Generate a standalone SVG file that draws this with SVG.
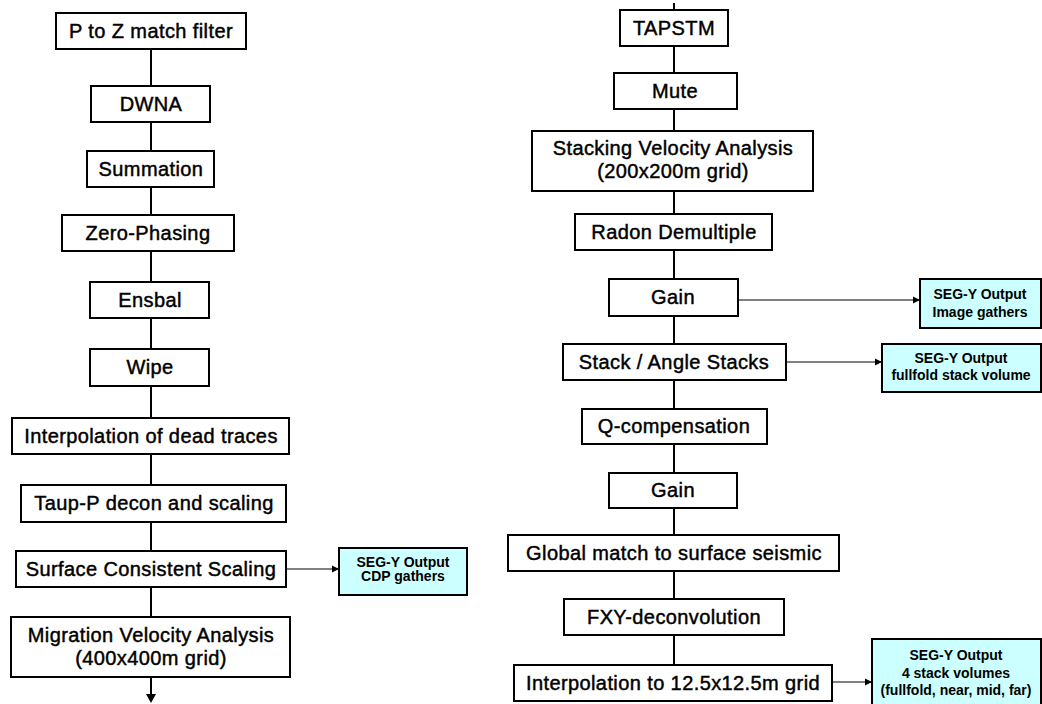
<svg xmlns="http://www.w3.org/2000/svg" width="1042" height="704" viewBox="0 0 1042 704">
<style>
.b{fill:#fff;stroke:#000;stroke-width:2}
.o{fill:#ccffff;stroke:#000;stroke-width:2}
.t{font-family:"Liberation Sans",Arial,sans-serif;font-size:20px;letter-spacing:0.4px;text-anchor:middle;fill:#000;stroke:#000;stroke-width:0.45}
.s{font-family:"Liberation Sans",Arial,sans-serif;font-size:14px;font-weight:bold;text-anchor:middle;fill:#000}
.v{stroke:#000;stroke-width:2;fill:none}
.h{stroke:#000;stroke-width:1;fill:none;marker-end:url(#ah)}
</style>
<defs>
<marker id="ah" markerWidth="8" markerHeight="8" refX="7" refY="4" orient="auto" markerUnits="userSpaceOnUse">
<path d="M0,0.5 L7,4 L0,7.5 Z" fill="#000"/>
</marker>
</defs>
<rect width="1042" height="704" fill="#fff"/>
<g id="connectors">
<path class="v" d="M151,49V86M151,122V151M151,187V215M151,251V282M151,318V349M151,386V418M151,454V485M151,522V551M151,587V617M151,677V695"/>
<path d="M146,694 L156,694 L151,703 Z" fill="#000"/>
<path class="v" d="M674,3V10M674,46V73M674,109V131M674,191V214M674,250V279M674,316V344M674,380V409M674,444V473M674,508V535M674,571V599M674,635V665"/>
<path class="h" d="M287,569H339"/>
<path class="h" d="M739,300H920"/>
<path class="h" d="M787,362H882"/>
<path class="h" d="M833,682H872"/>
</g>
<g id="n1"><rect class="b" x="56" y="13" width="190" height="36"/><text class="t" x="151" y="38">P to Z match filter</text></g>
<g id="n2"><rect class="b" x="91" y="86" width="119" height="36"/><text class="t" x="151" y="111">DWNA</text></g>
<g id="n3"><rect class="b" x="87" y="151" width="127" height="36"/><text class="t" x="151" y="176">Summation</text></g>
<g id="n4"><rect class="b" x="62" y="215" width="172" height="36"/><text class="t" x="148" y="240">Zero-Phasing</text></g>
<g id="n5"><rect class="b" x="90" y="282" width="119" height="36"/><text class="t" x="150" y="307">Ensbal</text></g>
<g id="n6"><rect class="b" x="90" y="349" width="119" height="37"/><text class="t" x="150" y="374">Wipe</text></g>
<g id="n7"><rect class="b" x="12" y="418" width="277" height="36"/><text class="t" x="151" y="443">Interpolation of dead traces</text></g>
<g id="n8"><rect class="b" x="21" y="485" width="265" height="37"/><text class="t" x="154" y="510">Taup-P decon and scaling</text></g>
<g id="n9"><rect class="b" x="16" y="551" width="270" height="36"/><text class="t" x="151" y="576">Surface Consistent Scaling</text></g>
<g id="n10"><rect class="b" x="11" y="617" width="279" height="60"/><text class="t" x="151" y="642">Migration Velocity Analysis</text><text class="t" x="151" y="665">(400x400m grid)</text></g>
<g id="o1"><rect class="o" x="339" y="548" width="128" height="47"/><text class="s" x="403" y="567">SEG-Y Output</text><text class="s" x="403" y="581">CDP gathers</text></g>
<g id="r1"><rect class="b" x="620" y="10" width="108" height="36"/><text class="t" x="674" y="35">TAPSTM</text></g>
<g id="r2"><rect class="b" x="614" y="73" width="123" height="36"/><text class="t" x="675" y="98">Mute</text></g>
<g id="r3"><rect class="b" x="532" y="131" width="281" height="60"/><text class="t" x="673" y="155">Stacking Velocity Analysis</text><text class="t" x="673" y="178">(200x200m grid)</text></g>
<g id="r4"><rect class="b" x="575" y="214" width="197" height="36"/><text class="t" x="674" y="239">Radon Demultiple</text></g>
<g id="r5"><rect class="b" x="609" y="279" width="129" height="37"/><text class="t" x="673" y="304">Gain</text></g>
<g id="r6"><rect class="b" x="563" y="344" width="223" height="36"/><text class="t" x="674" y="369">Stack / Angle Stacks</text></g>
<g id="r7"><rect class="b" x="582" y="409" width="185" height="35"/><text class="t" x="674" y="433">Q-compensation</text></g>
<g id="r8"><rect class="b" x="609" y="473" width="128" height="35"/><text class="t" x="673" y="497">Gain</text></g>
<g id="r9"><rect class="b" x="508" y="535" width="331" height="36"/><text class="t" x="674" y="560">Global match to surface seismic</text></g>
<g id="r10"><rect class="b" x="564" y="599" width="220" height="36"/><text class="t" x="674" y="624">FXY-deconvolution</text></g>
<g id="r11"><rect class="b" x="514" y="665" width="318" height="36"/><text class="t" x="673" y="690">Interpolation to 12.5x12.5m grid</text></g>
<g id="o2"><rect class="o" x="920" y="279" width="121" height="49"/><text class="s" x="980" y="299">SEG-Y Output</text><text class="s" x="980" y="317">Image gathers</text></g>
<g id="o3"><rect class="o" x="882" y="344" width="159" height="48"/><text class="s" x="961" y="363">SEG-Y Output</text><text class="s" x="961" y="380">fullfold stack volume</text></g>
<g id="o4"><rect class="o" x="872" y="639" width="169" height="67"/><text class="s" x="956" y="660">SEG-Y Output</text><text class="s" x="956" y="678">4 stack volumes</text><text class="s" x="956" y="695">(fullfold, near, mid, far)</text></g>
</svg>
